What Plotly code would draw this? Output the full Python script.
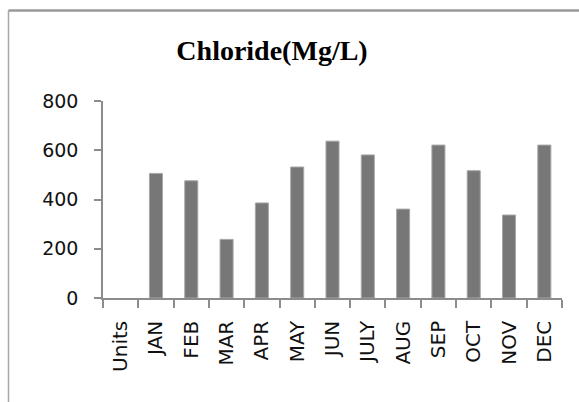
import plotly.graph_objects as go

categories = ["Units", "JAN", "FEB", "MAR", "APR", "MAY", "JUN", "JULY", "AUG", "SEP", "OCT", "NOV", "DEC"]
chloride = [None, 506, 476, 238, 386, 532, 637, 581, 361, 621, 517, 337, 621]
y_ticks = [0, 200, 400, 600, 800]

W, H = 579, 402
L, R, T, B = 103, 17, 101, 104
pw, ph = W - L - R, H - T - B

def px_x(p):
    return (p - L) / pw

def px_y(p):
    return (H - B - p) / ph

fig = go.Figure(go.Bar(
    x=categories, y=chloride,
    marker=dict(color="#777777", line=dict(color="#a8a8a8", width=1)),
))

axis_color = "#8c8c8c"
fig.update_layout(
    width=W, height=H,
    margin=dict(l=L, r=R, t=T, b=B, pad=0),
    paper_bgcolor="white", plot_bgcolor="white",
    showlegend=False,
    bargap=0.63,
    title=dict(text="<b>Chloride(Mg/L)</b>", xref="container", yref="container",
               x=272 / W, y=1 - 50 / H, xanchor="center", yanchor="middle",
               font=dict(family="Liberation Serif", size=28, color="black")),
    font=dict(family="DejaVu Sans", size=18, color="#111111"),
    xaxis=dict(type="category", tickangle=-90, showgrid=False, showline=True,
               linecolor=axis_color, linewidth=1.5, ticks="outside", ticklen=8,
               tickcolor=axis_color, tickwidth=1.5, tickson="boundaries",
               tickfont=dict(size=20), ticklabelstandoff=13, fixedrange=True),
    yaxis=dict(range=[0, 800], tickvals=y_ticks, showgrid=False, showline=True,
               linecolor=axis_color, linewidth=1.5, ticks="outside", ticklen=7,
               tickcolor=axis_color, tickwidth=1.5, zeroline=False,
               tickfont=dict(size=19), ticklabelstandoff=12, fixedrange=True),
    shapes=[
        dict(type="line", xref="paper", yref="paper", x0=px_x(8.5), x1=px_x(W + 2),
             y0=px_y(10.5), y1=px_y(10.5), line=dict(color="#9a9a9a", width=2.5)),
        dict(type="line", xref="paper", yref="paper", x0=px_x(8.5), x1=px_x(8.5),
             y0=px_y(10.5), y1=px_y(H + 2), line=dict(color="#a8a8a8", width=1.5)),
    ],
)

fig.write_html("out.html")
